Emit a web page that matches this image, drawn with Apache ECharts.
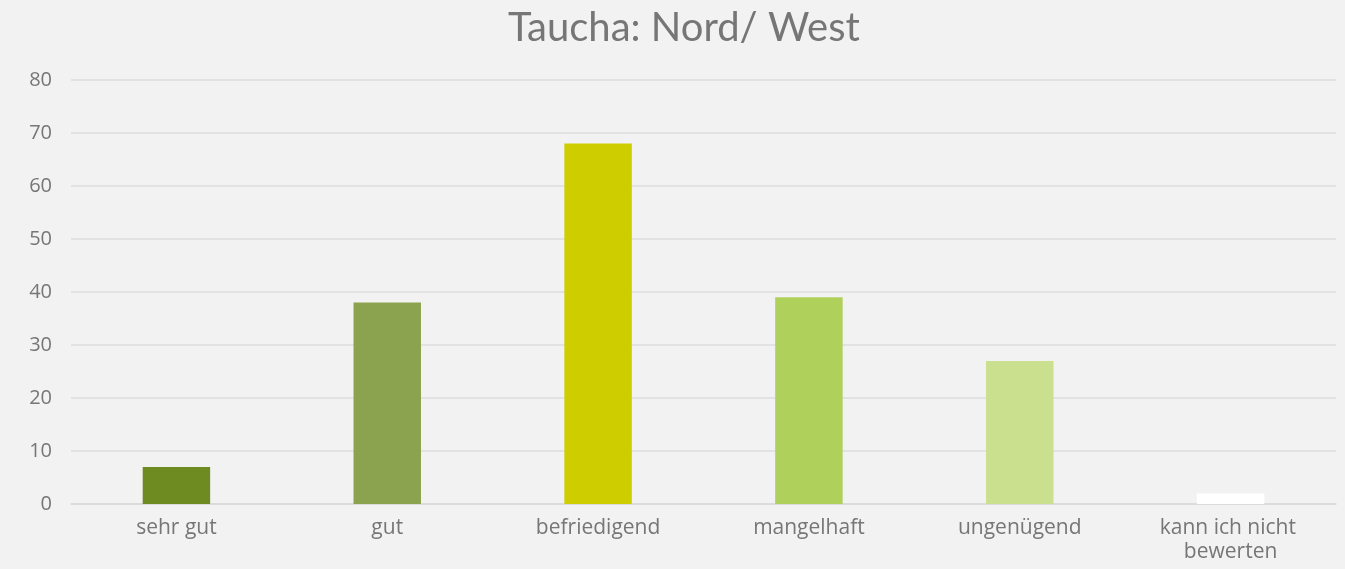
<!DOCTYPE html>
<html>
<head>
<meta charset="utf-8">
<script src="https://cdn.jsdelivr.net/npm/echarts@6/dist/echarts.min.js"></script>
<style>
  html, body { margin: 0; padding: 0; background: #f2f2f2; }
  #main { width: 1345px; height: 569px; }
</style>
</head>
<body>
<div id="main"></div>
<script>
// Kategorien und Werte
var categories = ['sehr gut', 'gut', 'befriedigend', 'mangelhaft', 'ungenügend', 'kann ich nicht bewerten'];
var values = [7, 38, 68, 39, 27, 2];
var barColors = ['#6e8b22', '#8ba24f', '#cdcd00', '#b0d05c', '#cbe08f', '#ffffff'];

var chart = echarts.init(document.getElementById('main'));

var option = {
  backgroundColor: '#f2f2f2',
  animation: false,
  title: {
    text: 'Taucha: Nord/ West',
    left: 503,
    top: 3,
    textStyle: {
      fontFamily: 'Lato',
      fontSize: 40,
      fontWeight: 'normal',
      color: '#767676'
    }
  },
  grid: { left: 71, right: 9, top: 80, bottom: 65, containLabel: false },
  xAxis: {
    type: 'category',
    data: categories,
    axisLine: { lineStyle: { color: '#d9d9d9', width: 1.5 } },
    axisTick: { show: false },
    axisLabel: {
      fontFamily: 'Open Sans',
      fontSize: 21,
      color: '#767676',
      margin: 12,
      lineHeight: 24,
      width: 180,
      overflow: 'break',
      interval: 0
    }
  },
  yAxis: {
    type: 'value',
    min: 0,
    max: 80,
    interval: 10,
    axisLine: { show: false },
    axisTick: { show: false },
    splitLine: { lineStyle: { color: '#dcdcdc', width: 1.5 } },
    axisLabel: {
      fontFamily: 'Open Sans',
      fontSize: 20,
      color: '#767676',
      margin: 19
    }
  },
  series: [{
    type: 'bar',
    barWidth: '32%',
    data: values.map(function (v, i) {
      return { value: v, itemStyle: { color: barColors[i] } };
    })
  }]
};

chart.setOption(option);
</script>
</body>
</html>
